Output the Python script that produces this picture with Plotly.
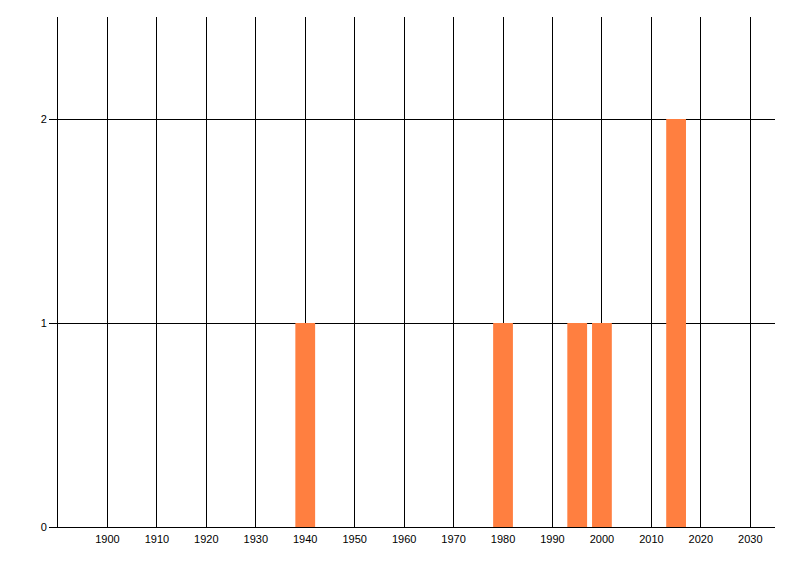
import plotly.graph_objects as go

years = [1940, 1980, 1995, 2000, 2015]
counts = [1, 1, 1, 1, 2]
x_ticks = list(range(1900, 2031, 10))
y_ticks = [0, 1, 2]

fig = go.Figure(go.Bar(x=years, y=counts, width=4, marker_color="#FF7F40",
                       marker_line_width=0))
fig.update_layout(
    width=792, height=568,
    margin=dict(l=50, r=25, t=9, b=49),
    plot_bgcolor="white", paper_bgcolor="white",
    font=dict(family="Liberation Sans, Arial, sans-serif", size=11, color="black"),
    showlegend=False,
)
fig.update_xaxes(range=[1890, 2035], tickvals=x_ticks, ticktext=[str(v) for v in x_ticks],
                 showgrid=True, gridcolor="black", gridwidth=1,
                 showline=True, linecolor="black", linewidth=1,
                 ticks="", zeroline=False, tickfont=dict(size=11), ticklabelstandoff=2)
fig.update_yaxes(range=[0, 2.5], tickvals=y_ticks, showgrid=True, gridcolor="black",
                 gridwidth=1, showline=True, linecolor="black", linewidth=1,
                 ticks="outside", ticklen=8, tickcolor="black", zeroline=False,
                 tickfont=dict(size=11))
fig.write_html("out.html")
